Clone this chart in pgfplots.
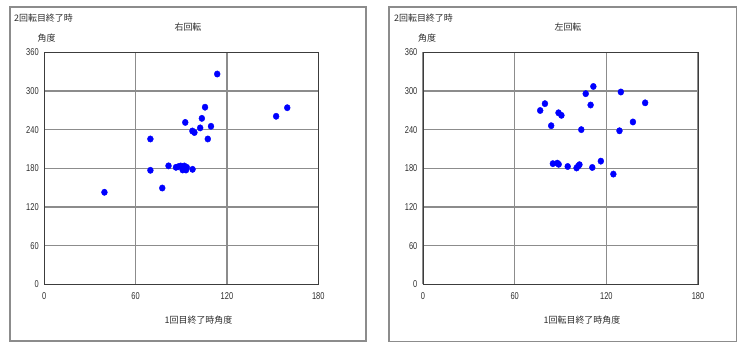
\documentclass[border=0pt]{standalone}
\usepackage{pgfplots}
\pgfplotsset{compat=1.18}
\usepackage{fontspec}
\setmainfont{Liberation Sans}
\newfontfamily\jp{Noto Sans CJK JP}
\definecolor{gridc}{RGB}{140,140,140}
\definecolor{framec}{RGB}{60,60,60}
\definecolor{boxc}{RGB}{140,140,140}
\definecolor{txt}{RGB}{45,45,45}
\pgfplotsset{
  myax/.style={
    scale only axis, height=232bp,
    xmin=0,xmax=180,ymin=0,ymax=360,
    xtick={0,60,120,180}, ytick={0,60,120,180,240,300,360},
    grid=major, major grid style={gridc, line width=1.1bp},
    axis line style={framec, line width=1bp},
    major tick length=0pt,
    /pgf/number format/assume math mode=true,
    tick label style={font=\fontsize{10}{10}\selectfont, text=txt, xscale=0.75},
    xticklabel style={yshift=-4.5bp},
    yticklabel style={xshift=-4bp},
    anchor=south west,
    clip=false,
  },
  pts/.style={only marks, mark=*, mark size=3.2bp, mark options={draw=blue, fill=blue, xscale=0.92}}
}
\begin{document}
\begin{tikzpicture}[x=1bp,y=1bp]
\useasboundingbox (0,0) rectangle (737,343);
\draw[boxc, line width=1.2bp] (10,2) rectangle (366,336);
\draw[boxc, line width=1.2bp] (389,1.5) rectangle (736.4,336);
\begin{axis}[myax, width=274bp, at={(44.3bp,58.7bp)}]
\addplot[pts] coordinates {
(39.5,142.8) (69.7,225.5) (69.7,176.9) (77.5,149.4) (81.6,183.8) (86.5,181.5)
(88,182.5) (89.6,183.6) (90.9,177.4) (92,183.6) (93.1,177.4) (93.6,181.5)
(97.4,178.4) (92.6,251.2) (97.3,237.9) (98.6,235.5) (102.4,242.7) (103.5,257.5)
(105.6,274.8) (107.4,225.5) (109.5,245.2) (113.6,326.3) (152.3,260.7) (159.6,274)
};
\end{axis}
\begin{axis}[myax, width=275bp, at={(423bp,58.7bp)}]
\addplot[pts] coordinates {
(76.7,269.7) (79.8,280.3) (83.9,246.1) (88.7,266.1) (90.6,262.2) (85,187.2)
(87.9,188) (88.8,186.2) (94.7,182.8) (100.5,180.5) (101.6,183.5) (102.4,185.6)
(103.6,240) (106.5,295.8) (109.7,278.2) (111.5,307) (110.8,181.3) (116.4,191.1)
(124.6,171) (128.6,238.2) (129.5,298.4) (137.4,251.9) (145.4,281.6)
};
\end{axis}
\begin{scope}[every node/.style={font=\jp\fontsize{9}{9}\selectfont, text=txt, inner sep=0pt}]
\node at (43.5,325) {2回転目終了時};
\node at (46.5,304.5) {角度};
\node at (188,316) {右回転};
\node at (198.5,23) {1回目終了時角度};
\node at (423.5,325) {2回転目終了時};
\node at (427,304.5) {角度};
\node at (568,316) {左回転};
\node at (582,23) {1回転目終了時角度};
\end{scope}
\end{tikzpicture}
\end{document}
